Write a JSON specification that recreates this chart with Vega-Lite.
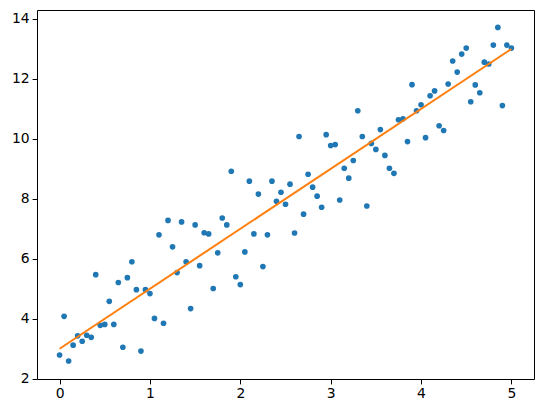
{
  "$schema": "https://vega.github.io/schema/vega-lite/v6.json",
  "width": 497,
  "height": 369,
  "autosize": {"type": "none"},
  "padding": {"left": 37, "top": 10, "right": 9, "bottom": 34},
  "background": "white",
  "config": {
    "view": {"stroke": "black", "strokeWidth": 1},
    "axis": {
      "domain": false,
      "grid": false,
      "tickColor": "black",
      "tickSize": 4.9,
      "tickWidth": 1,
      "labelFont": "DejaVu Sans",
      "labelFontSize": 13.9,
      "labelColor": "black",
      "labelPadding": 3,
      "title": null
    }
  },
  "datasets": {
    "pts": [
      {"x":0.00,"y":2.79},{"x":0.05,"y":4.08},{"x":0.10,"y":2.59},{"x":0.15,"y":3.12},{"x":0.20,"y":3.43},
      {"x":0.25,"y":3.25},{"x":0.30,"y":3.45},{"x":0.35,"y":3.38},{"x":0.40,"y":5.47},{"x":0.45,"y":3.78},
      {"x":0.50,"y":3.81},{"x":0.55,"y":4.58},{"x":0.60,"y":3.81},{"x":0.65,"y":5.21},{"x":0.70,"y":3.05},
      {"x":0.75,"y":5.37},{"x":0.80,"y":5.90},{"x":0.85,"y":4.97},{"x":0.90,"y":2.92},{"x":0.95,"y":4.97},
      {"x":1.00,"y":4.84},{"x":1.05,"y":4.01},{"x":1.10,"y":6.80},{"x":1.15,"y":3.85},{"x":1.20,"y":7.28},
      {"x":1.25,"y":6.40},{"x":1.30,"y":5.54},{"x":1.35,"y":7.23},{"x":1.40,"y":5.90},{"x":1.45,"y":4.34},
      {"x":1.50,"y":7.13},{"x":1.55,"y":5.77},{"x":1.60,"y":6.87},{"x":1.65,"y":6.83},{"x":1.70,"y":5.01},
      {"x":1.75,"y":6.20},{"x":1.80,"y":7.36},{"x":1.85,"y":7.13},{"x":1.90,"y":8.92},{"x":1.95,"y":5.40},
      {"x":2.00,"y":5.14},{"x":2.05,"y":6.23},{"x":2.10,"y":8.59},{"x":2.15,"y":6.83},{"x":2.20,"y":8.16},
      {"x":2.25,"y":5.74},{"x":2.30,"y":6.80},{"x":2.35,"y":8.59},{"x":2.40,"y":7.92},{"x":2.45,"y":8.22},
      {"x":2.50,"y":7.82},{"x":2.55,"y":8.49},{"x":2.60,"y":6.86},{"x":2.65,"y":10.08},{"x":2.70,"y":7.49},
      {"x":2.75,"y":8.82},{"x":2.80,"y":8.39},{"x":2.85,"y":8.09},{"x":2.90,"y":7.72},{"x":2.95,"y":10.14},
      {"x":3.00,"y":9.78},{"x":3.05,"y":9.81},{"x":3.10,"y":7.96},{"x":3.15,"y":9.02},{"x":3.20,"y":8.69},
      {"x":3.25,"y":9.28},{"x":3.30,"y":10.94},{"x":3.35,"y":10.08},{"x":3.40,"y":7.76},{"x":3.45,"y":9.85},
      {"x":3.50,"y":9.65},{"x":3.55,"y":10.31},{"x":3.60,"y":9.45},{"x":3.65,"y":9.02},{"x":3.70,"y":8.85},
      {"x":3.75,"y":10.64},{"x":3.80,"y":10.67},{"x":3.85,"y":9.91},{"x":3.90,"y":11.81},{"x":3.95,"y":10.94},
      {"x":4.00,"y":11.14},{"x":4.05,"y":10.04},{"x":4.10,"y":11.44},{"x":4.15,"y":11.60},{"x":4.20,"y":10.44},
      {"x":4.25,"y":10.28},{"x":4.30,"y":11.83},{"x":4.35,"y":12.60},{"x":4.40,"y":12.23},{"x":4.45,"y":12.83},
      {"x":4.50,"y":13.03},{"x":4.55,"y":11.24},{"x":4.60,"y":11.80},{"x":4.65,"y":11.54},{"x":4.70,"y":12.56},
      {"x":4.75,"y":12.50},{"x":4.80,"y":13.13},{"x":4.85,"y":13.72},{"x":4.90,"y":11.11},{"x":4.95,"y":13.13},
      {"x":5.00,"y":13.03}
    ],
    "fit": [
      {"x":0,"y":3},{"x":5,"y":13}
    ]
  },
  "layer": [
    {
      "data": {"name": "pts"},
      "mark": {"type": "circle", "color": "#1f77b4", "opacity": 1, "size": 32},
      "encoding": {
        "x": {"field": "x", "type": "quantitative",
              "scale": {"domain": [-0.25, 5.25], "nice": false, "zero": false},
              "axis": {"values": [0,1,2,3,4,5], "format": "d"}},
        "y": {"field": "y", "type": "quantitative",
              "scale": {"domain": [1.99, 14.3], "nice": false, "zero": false},
              "axis": {"values": [2,4,6,8,10,12,14], "format": "d"}}
      }
    },
    {
      "data": {"name": "fit"},
      "mark": {"type": "line", "color": "#ff7f0e", "strokeWidth": 2},
      "encoding": {
        "x": {"field": "x", "type": "quantitative"},
        "y": {"field": "y", "type": "quantitative"}
      }
    }
  ]
}
